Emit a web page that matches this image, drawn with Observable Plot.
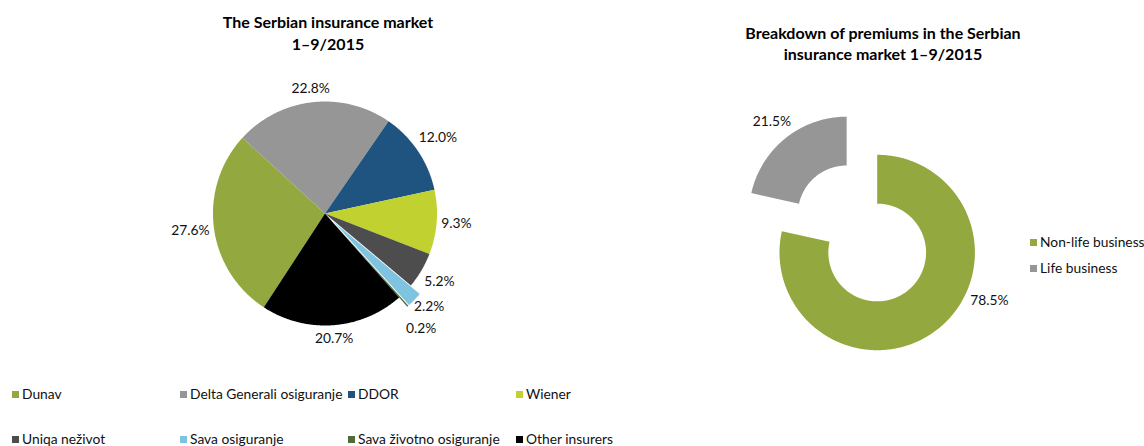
<!DOCTYPE html>
<html><head><meta charset="utf-8">
<script src="https://cdn.jsdelivr.net/npm/d3@7"></script>
<script src="https://cdn.jsdelivr.net/npm/@observablehq/plot@0.6"></script>
<style>
body{margin:0;background:#fff;font-family:Lato,"Open Sans",sans-serif;}
#root{position:relative;width:1144px;height:446px;overflow:hidden;}
.title{position:absolute;font-weight:bold;font-size:16px;text-align:center;color:#000;}
.leg{position:absolute;font-size:13.8px;color:#111;white-space:nowrap;line-height:16px;}
.leg .sw{display:inline-block;width:7px;height:7px;margin-right:3px;vertical-align:1px;}
.plot{position:absolute;}
</style></head>
<body><div id="root"></div>
<script>
// ---- data ----
const insurers = ["Dunav","Delta Generali osiguranje","DDOR","Wiener","Uniqa neživot","Sava osiguranje","Sava životno osiguranje","Other insurers"];
const insurerShares = [27.6,22.8,12.0,9.3,5.2,2.2,0.2,20.7];
const insurerColors = ["#93a83f","#969696","#1f5380","#c0d130","#4d4d4d","#7ec4e0","#4f6b3a","#000000"];
const explodedInsurers = ["Sava osiguranje","Sava životno osiguranje"];
const segments = ["Non-life business","Life business"];
const segmentShares = [78.5,21.5];
const segmentColors = ["#93a83f","#969696"];
const explodedSegments = ["Life business"];

const leftTitle = ["The Serbian insurance market","1–9/2015"];
const rightTitle = ["Breakdown of premiums in the Serbian","insurance market 1–9/2015"];

// ---- geometry helper (unit radius, y down) ----
const rad = d => d*Math.PI/180;
function buildSlices(names, values, {start, inner, explode, R, gap, labelFrac}) {
  const total = d3.sum(values);
  let a = start;
  const pts = [], labels = [];
  names.forEach((name, i) => {
    const span = values[i]/total*360;
    const a0 = a, a1 = a + span; a = a1;
    const mid = (a0 + a1)/2;
    const e = explode(name);
    const cx = e*Math.sin(rad(mid)), cy = -e*Math.cos(rad(mid));
    const n = Math.max(2, Math.ceil(span/0.5));
    if (!inner) pts.push({name, x: cx, y: cy});
    for (let k = 0; k <= n; k++) {
      const t = a0 + span*k/n;
      pts.push({name, x: cx + Math.sin(rad(t)), y: cy - Math.cos(rad(t))});
    }
    if (inner) for (let k = n; k >= 0; k--) {
      const t = a0 + span*k/n;
      pts.push({name, x: cx + inner*Math.sin(rad(t)), y: cy - inner*Math.cos(rad(t))});
    }
    const la = a0 + span*(labelFrac ? labelFrac[i] : 0.5);
    const text = values[i].toFixed(1) + "%";
    const hw = text.length*3.6, hh = 7;
    const s = Math.sin(rad(la)), c = Math.cos(rad(la));
    const dpx = gap + hw*Math.abs(s) + hh*Math.abs(c);
    const d = 1 + dpx/R;
    labels.push({name, text, x: cx + d*s, y: cy - d*c, side: s});
  });
  // simple collision relaxation (in px)
  for (let it = 0; it < 20; it++) {
    for (let i = 0; i < labels.length; i++) for (let j = i+1; j < labels.length; j++) {
      const A = labels[i], B = labels[j];
      const dx = (A.x - B.x)*R, dy = (A.y - B.y)*R;
      if (Math.abs(dx) < 40 && Math.abs(dy) < 22) {
        const push = (22 - Math.abs(dy))/2/R * (dy >= 0 ? 1 : -1);
        A.y += push; B.y -= push;
      }
    }
  }
  return {pts, labels};
}

function piePlot({names, values, colors, W, H, cxPx, cyPx, R, inner, start, exploded, explodeAmt, labelFrac}) {
  const {pts, labels} = buildSlices(names, values, {
    start, inner, R, gap: 5, labelFrac,
    explode: n => exploded.includes(n) ? explodeAmt : 0
  });
  return Plot.plot({
    width: W, height: H, margin: 0,
    style: {background: "transparent", fontFamily: "Lato, sans-serif"},
    x: {domain: [-cxPx/R, (W - cxPx)/R], range: [0, W], axis: null},
    y: {domain: [-cyPx/R, (H - cyPx)/R], range: [0, H], axis: null},
    color: {domain: names, range: colors},
    marks: [
      Plot.line(pts, {x: "x", y: "y", z: "name", fill: "name", stroke: "none", curve: "linear"}),
      Plot.text(labels, {x: "x", y: "y", text: "text", fontSize: 13.8, fill: "#111", textAnchor: "middle", lineAnchor: "middle"})
    ]
  });
}

const root = document.getElementById("root");
function addTitle(lines, cx, top, lh) {
  const d = document.createElement("div");
  d.className = "title";
  d.style.left = (cx - 250) + "px"; d.style.width = "500px";
  d.style.top = top + "px"; d.style.lineHeight = lh + "px";
  d.innerHTML = lines.join("<br>");
  root.appendChild(d);
}
addTitle(leftTitle, 328, 11, 22);
addTitle(rightTitle, 883, 22, 21);

const left = piePlot({names: insurers, values: insurerShares, colors: insurerColors,
  W: 660, H: 320, cxPx: 324.5, cyPx: 153, R: 112, inner: 0, start: 213.1,
  exploded: explodedInsurers, explodeAmt: 0.11});
left.classList.add("plot"); left.style.left = "0px"; left.style.top = "60px";
root.appendChild(left);

const right = piePlot({names: segments, values: segmentShares, colors: segmentColors,
  W: 484, H: 320, cxPx: 216.7, cyPx: 192, R: 97.7, inner: 0.5, start: 0,
  exploded: explodedSegments, explodeAmt: 0.5, labelFrac: [0.4, 0.5]});
right.classList.add("plot"); right.style.left = "660px"; right.style.top = "60px";
root.appendChild(right);

// legends
function addLeg(name, color, x, yc) {
  const d = document.createElement("div");
  d.className = "leg";
  d.style.left = x + "px"; d.style.top = (yc - 8) + "px";
  d.innerHTML = `<span class="sw" style="background:${color}"></span>${name}`;
  root.appendChild(d);
}
const colX = [12, 180, 348, 516], rowY = [394, 439];
insurers.forEach((n, i) => addLeg(n, insurerColors[i], colX[i % 4], rowY[Math.floor(i/4)]));
segments.forEach((n, i) => addLeg(n, segmentColors[i], 1030, [242, 268][i]));
</script>
</body></html>
